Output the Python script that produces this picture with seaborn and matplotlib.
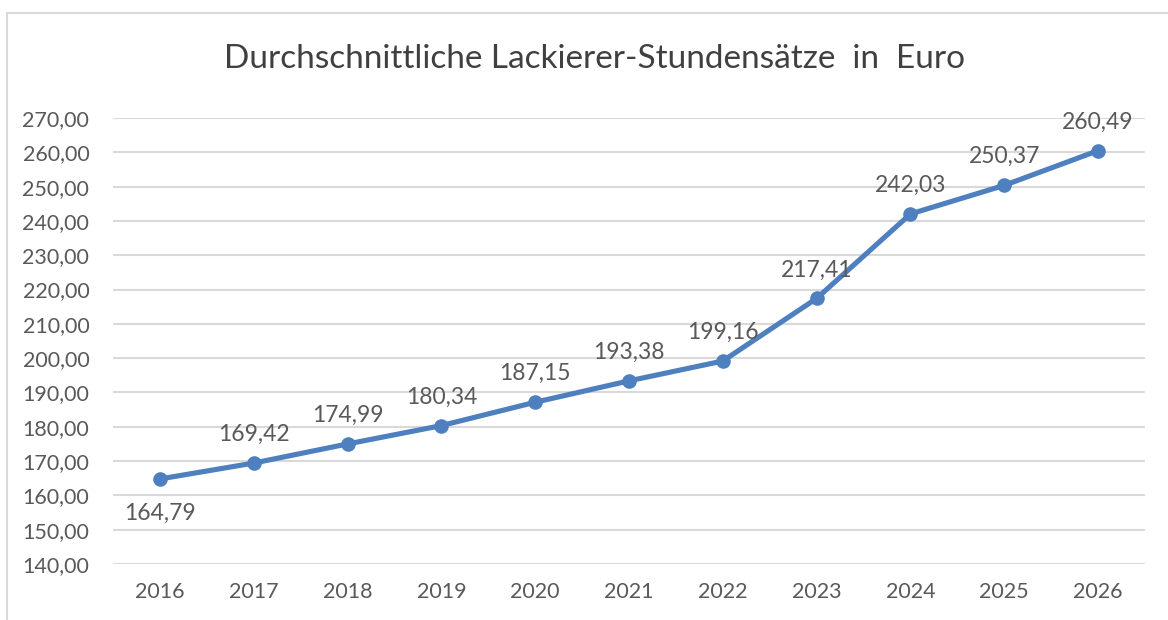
import matplotlib
matplotlib.use("Agg")
import matplotlib.pyplot as plt
import seaborn as sns
import pandas as pd
from matplotlib.lines import Line2D

years = ["2016", "2017", "2018", "2019", "2020", "2021", "2022", "2023", "2024", "2025", "2026"]
rates = [164.79, 169.42, 174.99, 180.34, 187.15, 193.38, 199.16, 217.41, 242.03, 250.37, 260.49]
y_ticks = [140, 150, 160, 170, 180, 190, 200, 210, 220, 230, 240, 250, 260, 270]
title = "Durchschnittliche Lackierer-Stundensätze  in  Euro"

df = pd.DataFrame({"Jahr": years, "Satz": rates})

sns.set_style("white")
plt.rcParams["font.family"] = ["Lato", "DejaVu Sans"]

text_col = "#595959"
line_col = "#4E7FBE"

fig = plt.figure(figsize=(11.68, 6.2), dpi=100)
ax = fig.add_axes([0.0967, 0.0903, 0.8836, 0.7194])

sns.lineplot(data=df, x="Jahr", y="Satz", ax=ax, color=line_col, linewidth=3.7,
             marker="o", markersize=10.5, markeredgewidth=0, sort=False, zorder=3)

ax.set_ylim(140, 270)
ax.set_xlim(-0.5, len(years) - 0.5)
ax.set_yticks(y_ticks)
ax.set_yticklabels([f"{v:.2f}".replace(".", ",") for v in y_ticks])
ax.yaxis.grid(True, color="#D9D9D9", linewidth=1.5)
ax.set_axisbelow(True)
for s in ax.spines.values():
    s.set_visible(False)
ax.tick_params(axis="both", length=0, labelsize=15.5, labelcolor=text_col)
ax.tick_params(axis="y", pad=17)
ax.tick_params(axis="x", pad=13)
ax.set_xlabel("")
ax.set_ylabel("")

# data labels
for i, v in enumerate(rates):
    lbl = f"{v:.2f}".replace(".", ",")
    if i == 0:
        ax.annotate(lbl, (i, v), xytext=(0, -17), textcoords="offset points",
                    ha="center", va="top", fontsize=16.5, color=text_col)
    else:
        ax.annotate(lbl, (i, v), xytext=(0, 13), textcoords="offset points",
                    ha="center", va="bottom", fontsize=16.5, color=text_col)

fig.text(0.5086, 0.905, title, ha="center", va="center", fontsize=24, color="#404040")

# chart frame (top and left edges visible)
fig.add_artist(Line2D([0.006, 1.0], [0.979, 0.979], color="#D9D9D9", linewidth=1.5,
                      transform=fig.transFigure))
fig.add_artist(Line2D([0.006, 0.006], [0.0, 0.979], color="#D9D9D9", linewidth=1.5,
                      transform=fig.transFigure))

fig.savefig("out.png", dpi=100)
